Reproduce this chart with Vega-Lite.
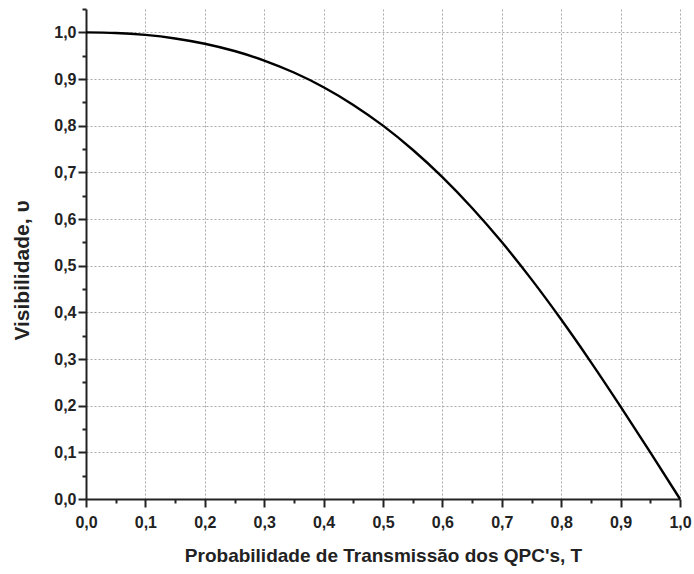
{
  "$schema": "https://vega.github.io/schema/vega-lite/v6.json",
  "width": 594,
  "height": 490,
  "autosize": "none",
  "padding": {"left": 86, "top": 9, "right": 14, "bottom": 75},
  "background": "white",
  "config": {"view": {"stroke": null}},
  "data": {"values": [
    {"T": 0.0, "V": 1.0},
    {"T": 0.05, "V": 0.9987},
    {"T": 0.1, "V": 0.9945},
    {"T": 0.15, "V": 0.9869},
    {"T": 0.2, "V": 0.9756},
    {"T": 0.25, "V": 0.96},
    {"T": 0.3, "V": 0.9396},
    {"T": 0.35, "V": 0.9139},
    {"T": 0.4, "V": 0.8824},
    {"T": 0.45, "V": 0.8445},
    {"T": 0.5, "V": 0.8},
    {"T": 0.55, "V": 0.7484},
    {"T": 0.6, "V": 0.6897},
    {"T": 0.65, "V": 0.6236},
    {"T": 0.7, "V": 0.5505},
    {"T": 0.75, "V": 0.4706},
    {"T": 0.8, "V": 0.3846},
    {"T": 0.85, "V": 0.2934},
    {"T": 0.9, "V": 0.198},
    {"T": 0.95, "V": 0.0998},
    {"T": 1.0, "V": 0.0}
  ]},
  "mark": {"type": "line", "color": "black", "strokeWidth": 2.4, "interpolate": "monotone", "clip": false},
  "encoding": {
    "x": {
      "field": "T", "type": "quantitative",
      "scale": {"domain": [0, 1], "nice": false, "zero": false},
      "axis": {
        "title": "Probabilidade de Transmissão dos QPC's, T",
        "values": [0, 0.05, 0.1, 0.15, 0.2, 0.25, 0.3, 0.35, 0.4, 0.45, 0.5, 0.55, 0.6, 0.65, 0.7, 0.75, 0.8, 0.85, 0.9, 0.95, 1.0],
        "labelExpr": "abs(round(datum.value*10) - datum.value*10) < 0.01 ? replace(format(datum.value, '.1f'), '.', ',') : ''",
        "labelFont": "Liberation Sans", "labelFontWeight": "bold", "labelFontSize": 16, "labelColor": "#222",
        "labelPadding": 7, "labelFlush": false, "labelOverlap": false,
        "titleFont": "Liberation Sans", "titleFontWeight": "bold", "titleFontSize": 19, "titleColor": "#222",
        "titlePadding": 16,
        "domainColor": "#222", "domainWidth": 2,
        "tickColor": "#222", "tickWidth": 2,
        "tickSize": {"condition": {"test": "abs(round(datum.value*10) - datum.value*10) < 0.01", "value": 8}, "value": 4},
        "grid": true,
        "gridColor": "#aaa",
        "gridDash": [2, 2],
        "gridWidth": 1,
        "gridOpacity": {"condition": {"test": "abs(round(datum.value*10) - datum.value*10) < 0.01 && datum.value > 0.01", "value": 1}, "value": 0}
      }
    },
    "y": {
      "field": "V", "type": "quantitative",
      "scale": {"domain": [0, 1.05], "nice": false, "zero": false},
      "axis": {
        "title": "Visibilidade, υ",
        "values": [0, 0.05, 0.1, 0.15, 0.2, 0.25, 0.3, 0.35, 0.4, 0.45, 0.5, 0.55, 0.6, 0.65, 0.7, 0.75, 0.8, 0.85, 0.9, 0.95, 1.0, 1.05],
        "labelExpr": "abs(round(datum.value*10) - datum.value*10) < 0.01 ? replace(format(datum.value, '.1f'), '.', ',') : ''",
        "labelFont": "Liberation Sans", "labelFontWeight": "bold", "labelFontSize": 16, "labelColor": "#222",
        "labelPadding": 2, "labelOverlap": false, "labelFlush": false,
        "titleFont": "Liberation Sans", "titleFontWeight": "bold", "titleFontSize": 21, "titleColor": "#222",
        "titleX": -64, "titleY": 261, "titleAngle": -90, "titleAlign": "center", "titleBaseline": "middle",
        "domainColor": "#222", "domainWidth": 2,
        "tickColor": "#222", "tickWidth": 2,
        "tickSize": {"condition": {"test": "abs(round(datum.value*10) - datum.value*10) < 0.01", "value": 8}, "value": 4},
        "grid": true,
        "gridColor": "#aaa",
        "gridDash": [2, 2],
        "gridWidth": 1,
        "gridOpacity": {"condition": {"test": "abs(round(datum.value*10) - datum.value*10) < 0.01 && datum.value > 0.01", "value": 1}, "value": 0}
      }
    }
  }
}
